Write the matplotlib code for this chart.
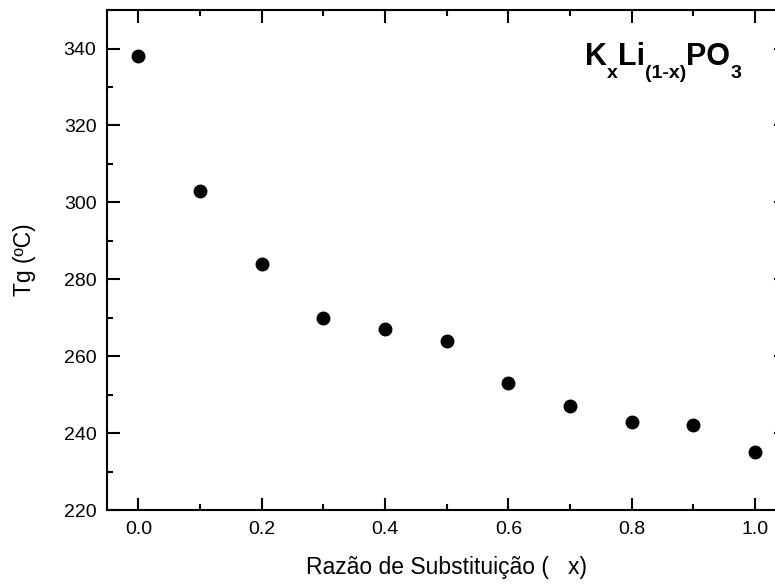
import matplotlib
matplotlib.use('Agg')
from matplotlib import pyplot as plt
from matplotlib.ticker import MultipleLocator

# dados
razao = [0.0, 0.1, 0.2, 0.3, 0.4, 0.5, 0.6, 0.7, 0.8, 0.9, 1.0]
tg = [338, 303, 284, 270, 267, 264, 253, 247, 243, 242, 235]

# fórmula: (texto, é subscrito?)
formula = [('K', False), ('x', True), ('Li', False), ('(1-x)', True), ('PO', False), ('3', True)]

plt.rcParams['font.family'] = ['Liberation Sans', 'DejaVu Sans']

fig = plt.figure(figsize=(7.75, 5.84), dpi=100)
ax = fig.add_axes([0.1387, 0.1267, 0.8755, 0.856])

ax.plot(razao, tg, 'o', color='black', ms=9)

ax.set_xlim(-0.05, 1.05)
ax.set_ylim(220, 350)
ax.xaxis.set_major_locator(MultipleLocator(0.2))
ax.xaxis.set_minor_locator(MultipleLocator(0.1))
ax.yaxis.set_major_locator(MultipleLocator(20))
ax.yaxis.set_minor_locator(MultipleLocator(10))
ax.xaxis.set_major_formatter(plt.FormatStrFormatter('%.1f'))

ax.tick_params(which='both', direction='in', top=True, right=True, width=1.5, labelsize=14)
ax.tick_params(which='major', length=9, pad=8)
ax.tick_params(which='minor', length=4.5)
for s in ax.spines.values():
    s.set_linewidth(1.5)

ax.set_xlabel('Razão de Substituição (   x)', fontsize=16.5, labelpad=13)
ax.set_ylabel('Tg (ºC)', fontsize=16.5, labelpad=20)

# monta a fórmula peça por peça (subscritos mais baixos e menores)
fig.canvas.draw()
renderer = fig.canvas.get_renderer()
x0, base = 585, 584 - 65
for txt, sub in formula:
    t = fig.text(x0, base - 12.5 if sub else base, txt, transform=None,
                 fontsize=14 if sub else 22, fontweight='bold',
                 ha='left', va='baseline')
    x0 += t.get_window_extent(renderer).width

fig.savefig('out.png', dpi=100)
